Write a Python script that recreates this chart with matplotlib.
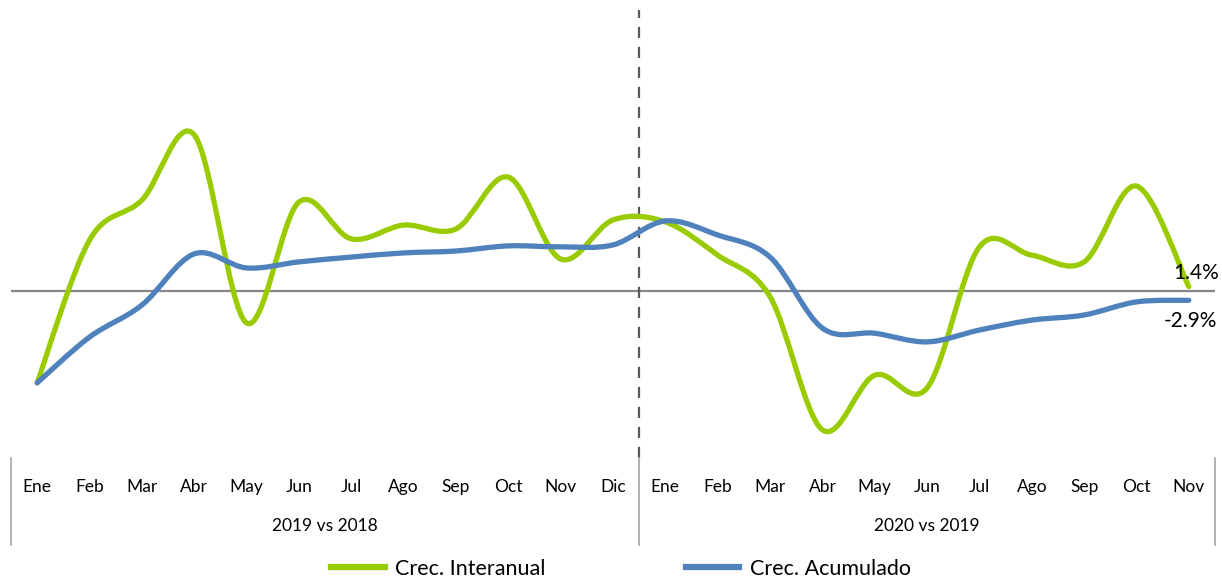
import numpy as np
import matplotlib
matplotlib.use('Agg')
import matplotlib.pyplot as plt
from matplotlib.path import Path
from matplotlib.patches import PathPatch
from matplotlib.lines import Line2D

# data (% growth)
months = ["Ene", "Feb", "Mar", "Abr", "May", "Jun", "Jul", "Ago", "Sep", "Oct", "Nov", "Dic",
          "Ene", "Feb", "Mar", "Abr", "May", "Jun", "Jul", "Ago", "Sep", "Oct", "Nov"]
groups = ["2019 vs 2018", "2020 vs 2019"]
group_sizes = [12, 11]
interanual = [-28.7, 15.9, 28.4, 48.8, -10.0, 27.8, 16.3, 20.6, 19.4, 35.6, 10.0, 22.2,
              21.6, 11.2, -1.8, -43.4, -26.3, -30.3, 13.8, 11.2, 9.1, 32.8, 1.4]
acumulado = [-28.7, -14.4, -4.4, 11.6, 7.2, 9.1, 10.6, 11.9, 12.5, 14.1, 13.8, 14.4,
             21.9, 17.5, 10.6, -11.6, -13.2, -15.9, -12.2, -9.1, -7.5, -3.4, -2.9]

green = '#99CC00'
blue = '#4F81BD'
font = 'Lato'


def smooth_path(xs, ys):
  # excel-like smoothed line: cubic bezier, catmull-rom style control points
  pts = np.column_stack([xs, ys]).astype(float)
  n = len(pts)
  verts = [pts[0]]
  codes = [Path.MOVETO]
  for i in range(n - 1):
    p0 = pts[i - 1] if i > 0 else pts[i]
    p1 = pts[i]
    p2 = pts[i + 1]
    p3 = pts[i + 2] if i + 2 < n else pts[i + 1]
    c1 = p1 + (p2 - p0) / 6.0
    c2 = p2 - (p3 - p1) / 6.0
    verts += [c1, c2, p2]
    codes += [Path.CURVE4] * 3
  return Path(verts, codes)


fig = plt.figure(figsize=(12.22, 5.78), dpi=100)
ax = fig.add_axes([11/1222., 1 - 458/578., (1215 - 11)/1222., 448/578.])

x = np.arange(len(months))
ax.set_xlim(-0.5, len(months) - 0.5)
ax.set_ylim((291 - 458)/3.2, (291 - 10)/3.2)

ax.axhline(0, color='#868686', lw=1.6, zorder=1)
ax.axvline(11.5, color='#595959', lw=1.6, ls=(0, (5, 4)), zorder=1)

for vals, col in [(interanual, green), (acumulado, blue)]:
  ax.add_patch(PathPatch(smooth_path(x, vals), fill=False, edgecolor=col, lw=3.8,
                         capstyle='round', joinstyle='round', zorder=3))

# end labels
ax.annotate("%.1f%%" % interanual[-1], (x[-1], interanual[-1]), xytext=(30, 14),
            textcoords='offset pixels', ha='right', va='center', fontsize=15, family=font)
ax.annotate("%.1f%%" % acumulado[-1], (x[-1], acumulado[-1]), xytext=(28, -21),
            textcoords='offset pixels', ha='right', va='center', fontsize=15, family=font)

# category axis
ax.set_xticks(x)
ax.set_xticklabels(months, family=font, fontsize=12.5)
ax.tick_params(axis='x', length=0, pad=15)
ax.set_yticks([])
for s in ax.spines.values():
  s.set_visible(False)

sep_bottom = -(545 - 458)/448.
start = 0
bounds = [-0.5]
for g, size in zip(groups, group_sizes):
  center = start + (size - 1)/2.0
  ax.text(center, -(526 - 458)/448., g, transform=ax.get_xaxis_transform(),
          ha='center', va='center', fontsize=12.5, family=font)
  start += size
  bounds.append(start - 0.5)
for b in bounds:
  ax.plot([b, b], [0, sep_bottom], transform=ax.get_xaxis_transform(),
          color='#a6a6a6', lw=1.2, clip_on=False)

handles = [Line2D([], [], color=green, lw=4.5), Line2D([], [], color=blue, lw=4.5)]
fig.legend(handles, ["Crec. Interanual", "Crec. Acumulado"], loc='center',
           bbox_to_anchor=(621/1222., 1 - 569/578.), ncol=2, frameon=False,
           prop={'family': font, 'size': 15.5}, handlelength=2.5, handletextpad=0.5,
           columnspacing=6.5, borderpad=0)

plt.savefig('out.png', dpi=100)
